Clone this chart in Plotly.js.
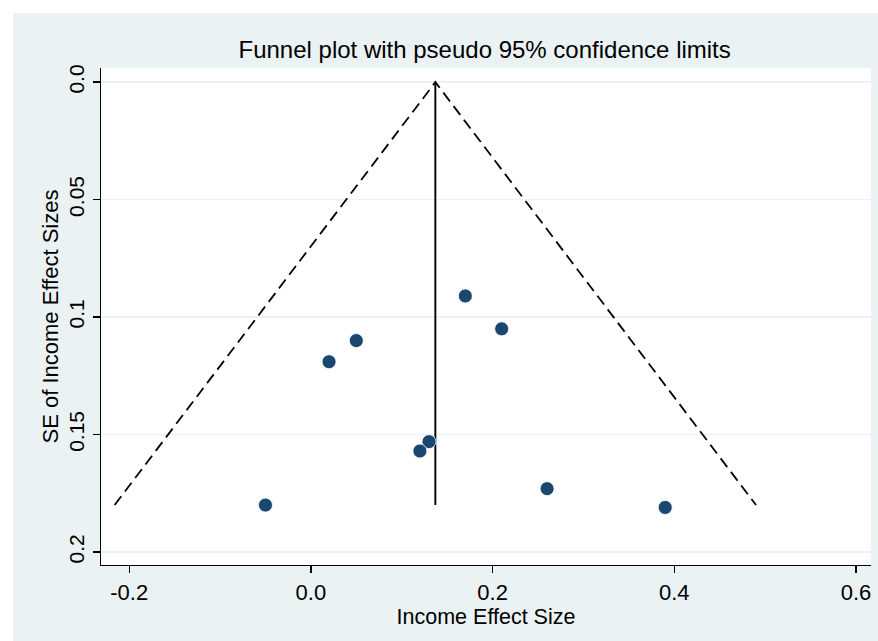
<!DOCTYPE html>
<html>
<head>
<meta charset="utf-8">
<script src="https://cdn.plot.ly/plotly-3.0.1.min.js"></script>
<style>html,body{margin:0;padding:0;background:#fff;}#chart{width:878px;height:641px;}</style>
</head>
<body>
<div id="chart"></div>
<script>
// Study estimates
var effectSize = [0.17, 0.21, 0.05, 0.02, 0.13, 0.12, -0.05, 0.26, 0.39];
var seEffect   = [0.091, 0.105, 0.110, 0.119, 0.153, 0.157, 0.180, 0.173, 0.181];
// Pooled estimate line
var pooledX = [0.137, 0.137];
var pooledY = [0.0, 0.180];
// Pseudo 95% confidence limits
var funnelX = [-0.216, 0.137, 0.490];
var funnelY = [0.180, 0.0, 0.180];
// Ticks
var xTickVals = [-0.2, 0.0, 0.2, 0.4, 0.6];
var xTickText = ["-0.2", "0.0", "0.2", "0.4", "0.6"];
var yTickVals = [0.0, 0.05, 0.1, 0.15, 0.2];
var yTickText = ["0.0", "0.05", "0.1", "0.15", "0.2"];

var FONT = "Liberation Sans, Arial, Helvetica, sans-serif";
var BG = "#EAF2F3";

var traces = [
  {x: funnelX, y: funnelY, mode: "lines", type: "scatter",
   line: {color: "#000", width: 1.8, dash: "11px,6px"}, hoverinfo: "skip"},
  {x: pooledX, y: pooledY, mode: "lines", type: "scatter",
   line: {color: "#000", width: 1.9}, hoverinfo: "skip"},
  {x: effectSize, y: seEffect, mode: "markers", type: "scatter",
   marker: {color: "#1A476F", size: 14, line: {color: "#ffffff", width: 0.8}}}
];

var layout = {
  width: 878, height: 641,
  paper_bgcolor: "#ffffff",
  plot_bgcolor: "rgba(0,0,0,0)",
  showlegend: false,
  margin: {l: 101, r: 7, t: 68, b: 76, pad: 0},
  font: {family: FONT, color: "#000"},
  title: {text: "Funnel plot with pseudo 95% confidence limits",
          font: {family: FONT, size: 24, color: "#000"},
          x: 0.552, xanchor: "center", y: 1 - 50/641, yref: "container", yanchor: "middle"},
  xaxis: {
    range: [-0.231, 0.6165], tickvals: xTickVals, ticktext: xTickText,
    showgrid: false, zeroline: false, showline: true, linecolor: "#000", linewidth: 1.3,
    ticks: "outside", ticklen: 7, tickwidth: 1.3, tickcolor: "#000",
    tickfont: {size: 22, family: FONT},
    title: {text: "Income Effect Size", font: {size: 21.5, family: FONT}, standoff: 3}
  },
  yaxis: {
    range: [0.2055, -0.006], tickvals: yTickVals, ticktext: yTickText,
    tickangle: -90,
    showgrid: true, gridcolor: BG, gridwidth: 1.8, zeroline: false,
    showline: true, linecolor: "#000", linewidth: 1.3,
    ticks: "outside", ticklen: 7, tickwidth: 1.3, tickcolor: "#000",
    tickfont: {size: 21, family: FONT},
    title: {text: "SE of Income Effect Sizes", font: {size: 22, family: FONT}, standoff: 0}
  },
  shapes: [
    {type: "rect", xref: "paper", yref: "paper", layer: "below",
     x0: (13-101)/770, x1: (878-101)/770, y0: -(641-565)/497, y1: 1 + (68-13)/497,
     fillcolor: BG, line: {width: 0}},
    {type: "rect", xref: "paper", yref: "paper", layer: "below",
     x0: 0, x1: 1, y0: 0, y1: 1,
     fillcolor: "#ffffff", line: {width: 0}}
  ]
};

Plotly.newPlot("chart", traces, layout, {displayModeBar: false, staticPlot: true});
</script>
</body>
</html>
